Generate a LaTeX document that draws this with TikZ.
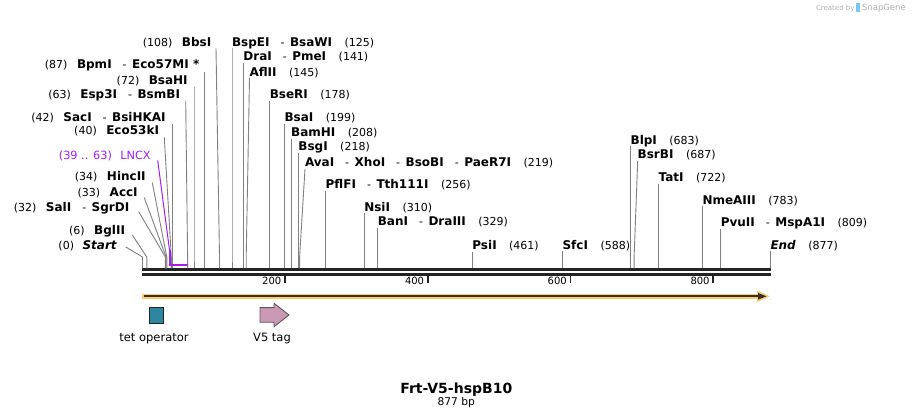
\documentclass[tikz,border=0pt]{standalone}
\usepackage{fontspec}
\setmainfont{DejaVu Sans}[ItalicFont={DejaVu Sans Oblique},BoldFont={DejaVu Sans Bold},BoldItalicFont={DejaVu Sans Bold Oblique}]
\definecolor{linegray}{RGB}{128,128,128}
\definecolor{seqcol}{RGB}{35,35,35}
\definecolor{lncx}{RGB}{160,32,240}
\definecolor{orangeband}{RGB}{250,202,115}
\definecolor{darkline}{RGB}{55,48,40}
\definecolor{tetcol}{RGB}{46,134,160}
\definecolor{vcol}{RGB}{204,153,180}
\definecolor{wm}{RGB}{175,175,175}
\definecolor{logoblue}{RGB}{120,200,240}
\newcommand\bn[1]{{\fontsize{12}{14}\selectfont\bfseries #1}}
\newcommand\nm[1]{{\fontsize{11}{13}\selectfont #1}}
\newcommand\gapL{\hspace{9.5pt}}
\newcommand\gapR{\hspace{12.5pt}}
\newcommand\dsh{\hspace{11pt}\nm{-}\hspace{5.5pt}}
% left-type label: id, text end x, baseline, content, top x, top y, site x
\newcommand\lsite[7]{%
  \node[lbl, anchor=base east] (L#1) at (#2,#3) {#4};
  \coordinate (T#1) at (#5,#6);
  \coordinate (S#1) at (#7,257);
  \coordinate (B#1) at (#7,268.3);
  \draw[site] (T#1) -- (S#1) -- (B#1);}
% right-type label: id, text start x, baseline, content, top y, site x
\newcommand\rsite[6]{%
  \node[lbl, anchor=base west] (L#1) at (#2,#3) {#4};
  \coordinate (T#1) at (#2,#5);
  \coordinate (S#1) at (#6,257);
  \coordinate (B#1) at (#6,268.3);
  \draw[site] (T#1) -- (S#1) -- (B#1);}
\begin{document}
\begin{tikzpicture}[x=1pt,y=-1pt,
  lbl/.style={inner sep=0pt, outer sep=0pt},
  site/.style={draw=linegray, line width=0.9pt},
  tickmark/.style={draw=seqcol, line width=1.8pt},
  ticklabel/.style={inner sep=0pt, anchor=base east, font=\fontsize{10}{12}\selectfont},
  featlabel/.style={inner sep=0pt, anchor=base, font=\fontsize{11.5}{13}\selectfont}]
\useasboundingbox (0,0) rectangle (913,419);
\fill[white] (0,0) rectangle (913,419);

% watermark
\node[lbl, anchor=base west, text=wm, font=\fontsize{7}{8}\selectfont] (wm1) at (816,10.5) {Created by};
\fill[logoblue] (856,3.5) rectangle (860,12.5);
\node[lbl, anchor=base west, text=wm, font=\fontsize{8.5}{9}\selectfont] (wm2) at (862,11) {SnapGene};

% sequence
\fill[seqcol] (142,268.3) rectangle (771,271.3);
\fill[seqcol] (142,273.2) rectangle (771,276);

% ticks
\foreach \tx/\tl in {285/200, 427.8/400, 570.5/600, 713.3/800}{
  \draw[tickmark] (\tx,276) -- (\tx,283);
  \node[ticklabel] (t\tl) at (\tx-3.5,284.5) {\tl};
}

% left-type labels
\lsite{Start}{116.7}{249.2}{\nm{(0)}\hspace{8.5pt}\bn{\itshape Start}}{125.7}{247}{142.5}
\lsite{BglII}{125}{234.2}{\nm{(6)}\gapL\bn{BglII}}{132.3}{235}{146.8}
\lsite{SalI}{129.3}{211.5}{\nm{(32)}\gapL\bn{SalI}\dsh\bn{SgrDI}}{138.7}{211.7}{165.4}
\lsite{AccI}{137.7}{196.5}{\nm{(33)}\gapL\bn{AccI}}{144.3}{197.7}{166.1}
\lsite{HincII}{145.7}{181}{\nm{(34)}\gapL\bn{HincII}}{152.3}{182.7}{166.8}
\lsite{Eco53kI}{159}{135}{\nm{(40)}\gapL\bn{Eco53kI}}{164.3}{137.3}{171.3}
\lsite{SacI}{165.7}{121.5}{\nm{(42)}\gapL\bn{SacI}\dsh\bn{BsiHKAI}}{172.5}{124.3}{172.5}
\lsite{Esp3I}{180}{98.5}{\nm{(63)}\gapL\bn{Esp3I}\dsh\bn{BsmBI}}{185.7}{101}{187.6}
\lsite{BsaHI}{187.7}{84.2}{\nm{(72)}\gapL\bn{BsaHI}}{194}{86.7}{194}
\lsite{BpmI}{199.3}{68.5}{\nm{(87)}\gapL\bn{BpmI}\dsh\bn{Eco57MI *}}{204.5}{71.7}{204.5}
\lsite{BbsI}{211.3}{46.5}{\nm{(108)}\gapL\bn{BbsI}}{216}{48.3}{219.5}

% LNCX feature label
\node[lbl, anchor=base east, text=lncx] (LLNCX) at (150.7,159.2) {\fontsize{11.3}{13}\selectfont (39 .. 63)\hspace{8.3pt}LNCX};
\coordinate (TLNCX) at (157.7,160.5);
\coordinate (SLNCX) at (169.5,250);
\coordinate (CLNCX) at (169.5,265.5);
\coordinate (ELNCX) at (187.6,265.5);
\draw[lncx, line width=1pt] (TLNCX) -- (SLNCX);
\draw[lncx, line width=2pt] (SLNCX) -- (CLNCX) -- (ELNCX);

% right-type labels
\rsite{BspEI}{232}{46.5}{\bn{BspEI}\dsh\bn{BsaWI}\gapR\nm{(125)}}{48.5}{232}
\rsite{DraI}{243.4}{61}{\bn{DraI}\dsh\bn{PmeI}\gapR\nm{(141)}}{63}{243.4}
\rsite{AflII}{249.5}{76.5}{\bn{AflII}\gapR\nm{(145)}}{78}{246.2}
\rsite{BseRI}{269.8}{98.5}{\bn{BseRI}\gapR\nm{(178)}}{101}{269.8}
\rsite{BsaI}{284.6}{122}{\bn{BsaI}\gapR\nm{(199)}}{124}{284.6}
\rsite{BamHI}{291.2}{136.5}{\bn{BamHI}\gapR\nm{(208)}}{139}{291.2}
\rsite{BsgI}{298.4}{151}{\bn{BsgI}\gapR\nm{(218)}}{153}{298.4}
\rsite{AvaI}{305}{166.5}{\bn{AvaI}\dsh\bn{XhoI}\dsh\bn{BsoBI}\dsh\bn{PaeR7I}\gapR\nm{(219)}}{169}{299.6}
\rsite{PflFI}{325.7}{188.5}{\bn{PflFI}\dsh\bn{Tth111I}\gapR\nm{(256)}}{191}{325.7}
\rsite{NsiI}{364.3}{211.2}{\bn{NsiI}\gapR\nm{(310)}}{213}{364.3}
\rsite{BanI}{377.8}{225.5}{\bn{BanI}\dsh\bn{DraIII}\gapR\nm{(329)}}{228}{377.8}
\rsite{PsiI}{472.4}{249.5}{\bn{PsiI}\gapR\nm{(461)}}{252}{472.4}
\rsite{SfcI}{562.6}{249.2}{\bn{SfcI}\gapR\nm{(588)}}{251.5}{562.6}
\rsite{BlpI}{630.6}{144.2}{\bn{BlpI}\gapR\nm{(683)}}{146.5}{630.6}
\rsite{BsrBI}{637.7}{159}{\bn{BsrBI}\gapR\nm{(687)}}{161}{634.1}
\rsite{TatI}{658.6}{182}{\bn{TatI}\gapR\nm{(722)}}{184}{658.6}
\rsite{NmeAIII}{702.5}{204.2}{\bn{NmeAIII}\gapR\nm{(783)}}{206.5}{702.5}
\rsite{PvuII}{720.8}{226.5}{\bn{PvuII}\dsh\bn{MspA1I}\gapR\nm{(809)}}{229}{720.8}
\rsite{End}{770.5}{249.2}{\bn{\itshape End}\gapR\nm{(877)}}{251.5}{770.5}

% orange direction arrow
\coordinate (oa1) at (142.3,296.3);
\coordinate (oa2) at (761,296.3);
\draw[orangeband, line width=5.5pt] (oa1) -- (oa2);
\fill[orangeband] (757,290.5) -- (769.5,296.3) -- (757,302.1) -- cycle;
\draw[darkline, line width=2pt] ([xshift=2pt]oa1) -- (759,296.3);
\fill[darkline] (758,293) -- (766.5,296.3) -- (758,299.6) -- cycle;

% features
\filldraw[fill=tetcol, draw=seqcol, line width=0.9pt] (149,307.7) rectangle (163.3,323);
\node[featlabel] (tetl) at (154,341.5) {tet operator};
\filldraw[fill=vcol, draw=black!65, line width=0.9pt] (260,307.7) -- (274,307.7) -- (274,303.3) -- (289,315) -- (274,326.7) -- (274,322.3) -- (260,322.3) -- cycle;
\node[featlabel] (v5l) at (272,341.5) {V5 tag};

% title
\node[lbl, anchor=base, font=\fontsize{14}{16}\selectfont\bfseries] (title) at (456.3,393.3) {Frt-V5-hspB10};
\node[lbl, anchor=base, font=\fontsize{10.7}{12}\selectfont] (bp) at (456.3,406) {877 bp};
\end{tikzpicture}
\end{document}
